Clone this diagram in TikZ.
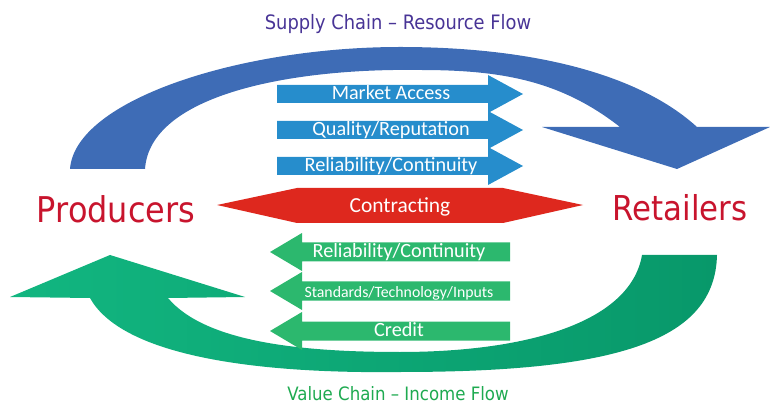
\documentclass[tikz,border=0pt]{standalone}
\usepackage{fontspec}
\setmainfont{Carlito}
\newfontfamily\tahoma[FakeStretch=0.9]{DejaVu Sans}
\definecolor{arcblue}{RGB}{62,108,182}
\definecolor{boxblue}{RGB}{38,141,204}
\definecolor{arcgreen}{RGB}{18,182,128}
\definecolor{arcgreendark}{RGB}{8,152,106}
\definecolor{boxgreen}{RGB}{44,184,110}
\definecolor{contractred}{RGB}{222,40,30}
\definecolor{partyred}{RGB}{200,20,45}
\definecolor{supplyink}{RGB}{72,52,150}
\definecolor{valueink}{RGB}{30,170,80}

\begin{document}
\begin{tikzpicture}[x=0.02cm, y=-0.02cm,
    party/.style={text=partyred, font=\tahoma\fontsize{19.5}{22}\selectfont, inner sep=0, anchor=base},
    chain/.style={font=\tahoma\fontsize{11.3}{13}\selectfont, inner sep=0, anchor=base},
    boxlabel/.style={text=white, font=\fontsize{11.5}{13}\selectfont, inner sep=0, anchor=base}]
\useasboundingbox (0,0) rectangle (770,408);

% big supply arc, producers -> retailers
\fill[arcblue] (70,169) .. controls (75,100) and (240,47) .. (400,47)
    .. controls (535,47) and (640,75) .. (697,127)
    -- (770,127) -- (677,169) -- (542,127) -- (620,127)
    .. controls (560,80) and (500,70) .. (420,70)
    .. controls (290,68) and (150,95) .. (145,169) -- cycle;

% big value arc, retailers -> producers
\shade[left color=arcgreen, right color=arcgreendark]
    (642,255) -- (717,255)
    .. controls (715,340) and (620,372) .. (400,372)
    .. controls (240,374) and (120,352) .. (90,298)
    -- (10,297) -- (110,255) -- (245,297) -- (168,298)
    .. controls (205,342) and (300,352) .. (400,352)
    .. controls (520,352) and (630,325) .. (642,255) -- cycle;

\node[chain, text=supplyink] (supply) at (398,30) {Supply Chain – Resource Flow};
\node[chain, text=valueink, font=\tahoma\fontsize{10.5}{13}\selectfont] (value) at (398,400) {Value Chain – Income Flow};

\node[party, font=\tahoma\fontsize{20.2}{22}\selectfont] (producers) at (116,223) {Producers};
\node[party] (retailers) at (680,221) {Retailers};

% contracting, both ways
\fill[contractred] (217,205) -- (297,188) -- (503,188) -- (583,205)
    -- (503,223) -- (297,223) -- cycle;
\node[boxlabel, font=\fontsize{12.2}{14}\selectfont] (contract) at (400,213) {Contracting};

% resource arrows
\foreach \c/\txt [count=\i] in {94/Market Access, 130/{Quality/Reputation}, 166/{Reliability/Continuity}} {
  \fill[boxblue] (277,\c-9) -- (488,\c-9) -- (488,\c-19) -- (523,\c)
      -- (488,\c+19) -- (488,\c+9) -- (277,\c+9) -- cycle;
  \node[boxlabel] (res\i) at (391,\c+6) {\txt};
}

% income arrows
\foreach \c/\txt/\fs [count=\i] in {252/{Reliability/Continuity}/11.5, 291/{Standards/Technology/Inputs}/9, 331/Credit/11.5} {
  \fill[boxgreen] (510,\c-9.5) -- (302,\c-9.5) -- (302,\c-19) -- (270,\c)
      -- (302,\c+19) -- (302,\c+9.5) -- (510,\c+9.5) -- cycle;
  \node[boxlabel, font=\fontsize{\fs}{13}\selectfont] (inc\i) at (399,\c+6) {\txt};
}
\end{tikzpicture}
\end{document}
